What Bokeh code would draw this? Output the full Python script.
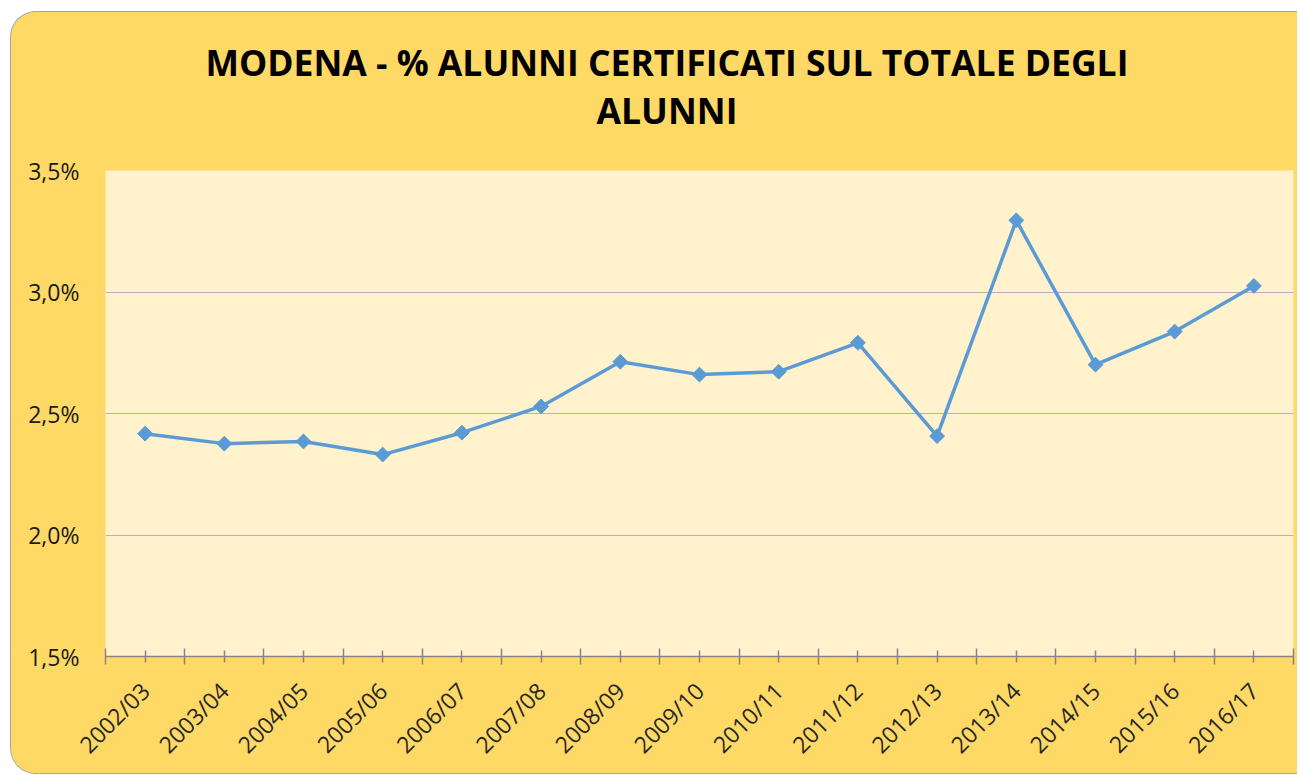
import math
from bokeh.plotting import figure
from bokeh.layouts import column
from bokeh.models import FixedTicker, Range1d, ColumnDataSource, InlineStyleSheet, Div
from bokeh.embed import file_html
from bokeh.resources import INLINE

categories = ["2002/03", "2003/04", "2004/05", "2005/06", "2006/07", "2007/08", "2008/09",
              "2009/10", "2010/11", "2011/12", "2012/13", "2013/14", "2014/15", "2015/16", "2016/17"]
values = [2.417, 2.376, 2.385, 2.331, 2.421, 2.529, 2.713, 2.660, 2.672, 2.791, 2.407,
          3.295, 2.701, 2.837, 3.025]
y_ticks = [1.5, 2.0, 2.5, 3.0, 3.5]
y_labels = ["1,5%", "2,0%", "2,5%", "3,0%", "3,5%"]
title_lines = ["MODENA - % ALUNNI CERTIFICATI SUL TOTALE DEGLI", "ALUNNI"]

xpos = [i + 0.5 for i in range(len(categories))]
src = ColumnDataSource(dict(x=xpos, y=values, cat=categories))

W = 1286
TITLE_H = 140

title = Div(text="<div style='display:block; position:relative; left:13px; width:" + str(W - 23) + "px; "
                 "padding-top:26px; padding-left:23px; text-align:center; "
                 "font-family:\"Open Sans\"; font-weight:bold; font-size:35.5px; "
                 "line-height:48px; color:#000;'>" + "<br>".join(title_lines) + "</div>",
            width=W, height=TITLE_H, margin=(0, 0, 0, 0))

p = figure(width=W, height=761 - TITLE_H, output_backend="svg", toolbar_location=None,
           x_range=Range1d(0, len(categories)), y_range=Range1d(y_ticks[0], y_ticks[-1]),
           min_border_left=94, min_border_right=4, min_border_top=18, min_border_bottom=115)
p.margin = (0, 0, 0, 0)

p.background_fill_color = "#FFF2CC"
p.border_fill_color = "#FFD966"
p.outline_line_color = None

# x axis
xa = p.xaxis[0]
xa.ticker = FixedTicker(ticks=xpos, minor_ticks=list(range(len(categories) + 1)))
xa.major_label_overrides = {xi: c for xi, c in zip(xpos, categories)}
xa.major_label_orientation = math.pi / 4
xa.axis_line_color = "#868686"
xa.axis_line_width = 1.5
xa.major_tick_line_color = "#868686"
xa.minor_tick_line_color = "#868686"
xa.major_tick_line_width = 1.5
xa.minor_tick_line_width = 1.5
xa.major_tick_in = 6
xa.major_tick_out = 6
xa.minor_tick_in = 8
xa.minor_tick_out = 8
xa.major_label_text_font = "Open Sans"
xa.major_label_text_font_size = "23px"
xa.major_label_text_color = "#262626"
xa.major_label_standoff = 22

# y axis
ya = p.yaxis[0]
ya.ticker = FixedTicker(ticks=y_ticks)
ya.major_label_overrides = {t: l for t, l in zip(y_ticks, y_labels)}
ya.axis_line_color = None
ya.major_tick_line_color = None
ya.minor_tick_line_color = None
ya.major_tick_out = 0
ya.major_tick_in = 0
ya.major_label_text_font = "Open Sans"
ya.major_label_text_font_size = "23px"
ya.major_label_text_color = "#1A1A1A"
ya.major_label_standoff = 26

p.xgrid.grid_line_color = None
p.ygrid.ticker = FixedTicker(ticks=y_ticks)
p.ygrid.grid_line_color = "#B3B3B3"
p.ygrid.grid_line_width = 1

p.line("x", "y", source=src, line_color="#5B9BD5", line_width=3.5)
p.scatter("x", "y", source=src, marker="square", angle=math.pi / 4, size=10.5,
          fill_color="#5B9BD5", line_color="#5B9BD5")

layout = column(title, p, spacing=0)
layout.margin = (11, 0, 0, 10)
layout.stylesheets = [InlineStyleSheet(css=":host { background-color: #FFD966; border-radius: 26px 0 0 26px; "
                                            "overflow: hidden; border: 1.5px solid #A6A6A6; "
                                            "border-right: none; }")]

open("out.html", "w").write(file_html(layout, INLINE))
